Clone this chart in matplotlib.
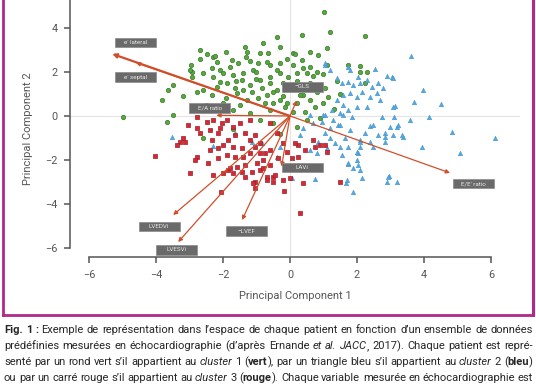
import numpy as np
import matplotlib
matplotlib.use('Agg')
import matplotlib.pyplot as plt
import matplotlib.transforms as mtransforms
from matplotlib.patches import Rectangle
from matplotlib.lines import Line2D

plt.rcParams['font.family'] = ['Roboto', 'DejaVu Sans']

# cluster 1 (vert)
green = [(-4.99, -0.05), (-2.69, 3.0), (-2.48, 2.82), (-2.96, 2.32), (-2.93, 2.0), (-2.93, 1.77),
         (-3.49, 1.41), (-3.64, 1.18), (-3.82, 0.73), (-3.49, 0.05), (-3.67, -0.27), (-2.69, 2.59),
         (-2.30, 2.68), (-2.09, 2.09), (-2.33, 2.18), (-1.73, 2.55), (-1.55, 2.41), (-1.34, 3.14),
         (-1.28, 2.91), (-1.31, 2.68), (-0.90, 2.86), (-0.66, 2.86), (-0.39, 3.59), (-0.30, 3.14),
         (-2.24, 2.73), (-2.18, 2.45), (-2.99, 2.09), (-0.69, 2.45), (-0.96, 2.41), (-1.10, 2.09),
         (-0.60, 2.32), (-0.30, 2.41), (0.09, 2.86), (-1.79, 2.23), (-1.70, 1.86), (-1.40, 1.95),
         (-1.43, 1.64), (-2.0, 1.95), (-2.09, 1.55), (-1.88, 1.5), (-2.3, 1.77), (-2.6, 1.95),
         (-2.78, 1.09), (-2.6, 1.18), (-2.33, 0.95), (-2.18, 1.32), (-1.64, 1.27), (-1.58, 1.05),
         (-1.19, 1.41), (-1.13, 1.09), (-0.9, 1.64), (-0.84, 1.27), (-0.6, 1.77), (-0.6, 1.5),
         (-0.51, 1.09), (-0.3, 1.95), (-0.21, 1.5), (-0.06, 1.77), (-1.28, 0.73), (-0.96, 0.82),
         (-0.75, 0.59), (-1.49, 0.5), (-1.7, 0.27), (-0.6, 0.27), (-0.3, 0.73), (-0.15, 0.41),
         (-1.19, 0.14), (0.36, 3.68), (1.19, 3.82), (2.24, 3.64), (1.1, 3.09), (0.84, 2.77),
         (1.01, 4.73), (0.15, 2.82), (0.36, 2.55), (0.09, 2.32), (0.39, 2.18), (0.6, 2.23),
         (0.21, 1.95), (0.51, 1.95), (0.81, 2.0), (1.1, 2.32), (1.73, 2.32), (2.09, 2.27),
         (2.3, 2.0), (2.09, 2.0), (1.04, 1.27), (1.13, 0.86), (0.99, 0.59), (0.39, 0.95),
         (0.6, 0.73), (0.75, 0.41), (0.45, 0.18), (0.21, 0.59), (2.24, 1.5), (0.3, 0.95),
         (-2.6, -1.0), (-1.7, -0.6), (-0.5, -0.3), (-0.3, -0.8), (0.2, -0.5), (0.5, -0.2),
         (-0.9, -0.2), (0.9, -0.1), (-1.0, 2.0), (-0.4, 1.2), (0.0, 1.3), (0.2, 1.6), (0.6, 1.5),
         (0.8, 1.1), (-0.2, 0.9), (0.1, 0.2), (-0.5, 0.6), (1.4, 1.6), (1.5, 1.0), (-1.9, 0.8),
         (-2.5, 0.5), (-3.2, 0.9), (-1.2, 2.5), (-0.1, 2.6), (0.6, 2.9), (-0.8, 3.3), (-1.9, 2.9),
         (1.3, 0.3), (-1.6, 1.6), (-1.0, 1.7), (-0.4, 2.1), (0.4, 1.3), (-0.7, 0.95), (-1.4, 1.2),
         (-2.0, 0.6), (0.7, 1.8), (-0.1, 0.6), (1.0, 1.9)]

# cluster 2 (bleu)
blue = [(3.61, 2.73), (3.97, 1.18), (4.51, 0.55), (4.15, -0.05), (3.7, 0.64), (4.84, -0.73),
        (6.12, -1.0), (3.94, -1.41), (3.13, 0.45), (3.1, -0.05), (2.75, -0.05), (3.04, 1.77),
        (2.54, 2.14), (1.04, 2.32), (1.73, 2.23), (2.9, 1.82), (3.19, -0.5), (2.99, -0.5),
        (2.63, -0.86), (3.37, -0.95), (2.84, -0.95), (2.39, -0.45), (1.43, -0.41), (2.09, -1.09),
        (5.07, -1.68), (2.96, -2.73), (3.19, -3.0), (2.9, -3.0), (1.88, -3.45), (1.67, -3.05),
        (1.73, -2.18), (2.0, -2.0), (2.03, -2.23), (2.09, -2.45), (1.88, -2.36), (0.75, -2.86),
        (0.06, -2.82), (1.55, -1.77), (2.09, -1.41), (2.48, -1.41), (2.84, -1.18), (2.03, -1.68),
        (3.58, -0.18), (2.48, -0.41), (3.22, -0.41), (2.84, -0.77), (3.07, -0.86), (3.34, -0.86),
        (2.24, -0.77), (2.09, -1.18), (2.39, -1.18), (1.64, -1.0), (1.79, -0.64), (1.28, -0.18),
        (1.49, -0.41), (1.19, -0.55), (1.04, -0.77), (1.19, -1.0), (1.34, -1.23), (1.1, -1.45),
        (1.49, -1.41), (1.73, -1.41), (2.0, -1.64), (1.73, -2.14), (0.84, -1.18), (0.81, -1.68),
        (0.6, -1.55), (0.3, -0.86), (0.39, -0.55), (0.69, -0.32), (0.96, -0.27), (0.99, 0.05),
        (0.6, 0.05), (1.58, 0.05), (1.85, -0.05), (2.93, -2.77), (1.70, -2.91), (2.15, -2.82),
        (1.04, 2.41), (1.79, 2.09), (3.07, 1.73), (1.40, 1.73), (1.55, 1.5), (1.73, 1.55),
        (1.88, 1.41), (2.09, 1.5), (2.3, 1.64), (2.45, 1.32), (2.63, 1.5), (2.78, 1.27),
        (2.6, 1.05), (2.39, 0.86), (2.15, 1.09), (2.0, 0.86), (1.79, 1.05), (1.58, 0.95),
        (1.40, 0.73), (1.58, 0.5), (1.73, 0.27), (2.0, 0.41), (2.3, 0.41), (2.69, 0.73),
        (3.07, 0.41), (1.49, 0.14), (1.25, 0.27), (1.04, 0.05), (1.19, 2.09), (2.03, 1.77),
        (-3.52, -0.95), (-2.3, -1.36), (-1.64, -0.77), (-1.13, -1.18), (-0.84, -1.23),
        (-0.3, -1.41), (-0.39, -1.86)]

# cluster 3 (rouge)
red = [(-2.78, -0.05), (-3.04, -0.41), (-2.48, -0.27), (-2.3, -0.18), (-2.03, -0.32), (-1.88, -0.18),
       (-1.70, -0.5), (-1.49, -0.32), (-1.19, -0.18), (-2.78, -0.55), (-2.39, -0.64), (-2.09, -0.55),
       (-2.15, -0.77), (-2.69, -0.77), (-3.19, -1.0), (-3.28, -1.18), (-3.37, -1.32), (-2.33, -1.09),
       (-1.85, -1.09), (-1.64, -0.86), (-1.34, -0.77), (-1.04, -0.86), (-1.19, -1.09), (-1.04, -1.41),
       (-1.43, -1.45), (-1.70, -1.41), (-2.0, -1.32), (-2.15, -1.45), (-2.39, -1.55), (-2.78, -1.86),
       (-2.84, -2.0), (-2.45, -2.14), (-2.15, -1.91), (-1.88, -1.77), (-1.64, -1.86), (-1.40, -1.86),
       (-1.19, -1.68), (-0.9, -1.68), (-0.81, -2.0), (-0.99, -2.14), (-1.34, -2.23), (-1.58, -2.32),
       (-1.85, -2.45), (-2.0, -2.59), (-1.70, -2.59), (-1.43, -2.55), (-1.13, -2.55), (-0.9, -2.45),
       (-0.6, -2.23), (-0.69, -2.77), (-0.51, -2.77), (-1.04, -3.0), (-1.34, -2.77), (-2.99, -2.59),
       (-0.21, -2.91), (-0.6, -0.32), (-0.39, -0.77), (-0.21, -1.23), (-0.09, -1.64), (-0.36, -1.91),
       (-0.6, -1.55), (-0.9, -1.23), (-4.03, -1.82), (-2.3, -2.68), (-2.06, -3.45), (-1.79, -2.36),
       (-1.1, -3.05), (-1.04, -3.27), (-0.69, -2.91), (-3.13, -1.18), (-0.18, -3.41), (0.3, -4.41),
       (0.39, -3.05), (1.49, -3.0), (0.0, -2.82), (-0.51, -3.0), (-0.81, -2.36), (-0.75, -1.68),
       (-0.45, -2.68), (0.09, -2.36), (0.24, -1.32), (0.45, -1.55), (0.75, -1.41), (1.04, -1.32),
       (0.69, -1.09), (0.9, -1.32), (1.1, -1.64), (0.15, -1.23), (0.06, -1.91), (0.24, -1.86)]

# loading vectors: name, arrow tip, label centre
var_names = ["e' lateral", "e' septal", "E/A ratio", "−GLS", "LAVi", "E/E' ratio", "LVEDVi", "LVESVi", "−LVEF"]
var_tips = [(-5.31, 2.82), (-4.6, 2.42), (-2.2, 0.03), (0.2, 0.7), (-0.25, -2.3), (4.78, -2.59),
            (-3.49, -4.5), (-3.34, -5.73), (-1.43, -4.73)]
label_pos = [(-4.6, 3.34), (-4.6, 1.77), (-2.39, 0.36), (0.36, 1.32), (0.36, -2.34), (5.49, -3.07),
             (-3.91, -5.02), (-3.39, -6.09), (-1.3, -5.23)]

xticks = [-6, -4, -2, 0, 2, 4, 6]
yticks = [-6, -4, -2, 0, 2, 4]

caption = [
    [("Fig. 1 :", 'bold', 'normal'),
     (" Exemple de représentation dans l’espace de chaque patient en fonction d’un ensemble de données", 'normal', 'normal')],
    [("prédéfinies mesurées en échocardiographie (d’après Ernande ", 'normal', 'normal'),
     ("et al. JACC", 'normal', 'italic'),
     (", 2017). Chaque patient est repré-", 'normal', 'normal')],
    [("senté par un rond vert s’il appartient au ", 'normal', 'normal'), ("cluster", 'normal', 'italic'),
     (" 1 (", 'normal', 'normal'), ("vert", 'bold', 'normal'),
     ("), par un triangle bleu s’il appartient au ", 'normal', 'normal'), ("cluster", 'normal', 'italic'),
     (" 2 (", 'normal', 'normal'), ("bleu", 'bold', 'normal'), (")", 'normal', 'normal')],
    [("ou par un carré rouge s’il appartient au ", 'normal', 'normal'), ("cluster", 'normal', 'italic'),
     (" 3 (", 'normal', 'normal'), ("rouge", 'bold', 'normal'),
     ("). Chaque variable mesurée en échocardiographie est", 'normal', 'normal')],
]

W, H = 536, 386
fig = plt.figure(figsize=(W / 100, H / 100), dpi=100)
ax = fig.add_axes([70 / W, 1 - 257 / H, 450 / W, 257 / H])

ax.axhline(0, color='#e4e4e4', lw=0.8, zorder=0)
ax.axvline(0, color='#e4e4e4', lw=0.8, zorder=0)

g = np.array(green)
b = np.array(blue)
r = np.array(red)
ax.scatter(g[:, 0], g[:, 1], s=10, marker='o', color='#58a83f', edgecolors='#3b7a2c', linewidths=0.5, zorder=2)
ax.scatter(b[:, 0], b[:, 1], s=11, marker='^', color='#52a8e0', edgecolors='#3f90c8', linewidths=0.3, zorder=2)
ax.scatter(r[:, 0], r[:, 1], s=12, marker='s', color='#d42a35', edgecolors='#a81a25', linewidths=0.5, zorder=2)

for i, tip in enumerate(var_tips):
    lw = 1.6 if i == 0 else 0.9
    ax.annotate('', xy=tip, xytext=(0, 0),
                arrowprops=dict(arrowstyle='-|>', color='#d04f2a', lw=lw, mutation_scale=6,
                                shrinkA=0, shrinkB=0), zorder=3)

for name, (lx, ly) in zip(var_names, label_pos):
    tr = fig.dpi_scale_trans + mtransforms.ScaledTranslation(lx, ly, ax.transData)
    ax.add_patch(Rectangle((-0.205, -0.048), 0.41, 0.096, transform=tr, facecolor='#6a6a6a',
                           edgecolor='#8a8a8a', lw=0.5, zorder=4, clip_on=False))
    ax.text(lx, ly, name, ha='center', va='center', fontsize=4.5, color='#e8e8e8', zorder=5)

ax.set_xlim(-6.57, 6.87)
ax.set_ylim(-6.41, 5.27)
ax.set_xticks(xticks)
ax.set_yticks(yticks)
ax.set_xticklabels([str(v).replace('-', '−') for v in xticks])
ax.set_yticklabels([str(v).replace('-', '−') for v in yticks])
for s in ['top', 'right']:
    ax.spines[s].set_visible(False)
ax.spines['left'].set_bounds(-6, 5.27)
ax.spines['bottom'].set_bounds(-6, 6)
for s in ['left', 'bottom']:
    ax.spines[s].set_color('#555555')
    ax.spines[s].set_linewidth(1.1)
ax.tick_params(direction='out', length=4, width=1.1, color='#555555', labelcolor='#555555', labelsize=7.8)
ax.tick_params(axis='x', pad=5)
ax.tick_params(axis='y', pad=5)
ax.set_xlabel('Principal Component 1', fontsize=8, color='#555555', labelpad=8)
ax.set_ylabel('Principal Component 2', fontsize=8, color='#555555', labelpad=9)
ax.set_facecolor('none')

# magenta frame
frame_col = '#b02a8c'
fig.add_artist(Line2D([2.5 / W, 2.5 / W], [1 - 315 / H, 1], color=frame_col, lw=2, transform=fig.transFigure))
fig.add_artist(Line2D([532.5 / W, 532.5 / W], [1 - 315 / H, 1], color=frame_col, lw=2.2, transform=fig.transFigure))
fig.add_artist(Line2D([2.5 / W, 532.5 / W], [1 - 315 / H, 1 - 315 / H], color=frame_col, lw=2, transform=fig.transFigure))

# justified caption
renderer = fig.canvas.get_renderer()
x0, x1 = 4, 533
line_y = [333, 349, 365, 381]
fs = 8.0
for segs, yb in zip(caption, line_y):
    words = [[]]
    for text, wt, st in segs:
        parts = text.split(' ')
        for i, p in enumerate(parts):
            if i > 0:
                words.append([])
            if p:
                words[-1].append((p, wt, st))
    words = [w for w in words if w]
    arts = []
    widths = []
    for w in words:
        pieces = []
        tw = 0
        for p, wt, st in w:
            t = fig.text(0, 0, p, fontsize=fs, fontweight=wt, fontstyle=st, color='#262626',
                         va='baseline', ha='left')
            pw = t.get_window_extent(renderer).width
            pieces.append((t, tw))
            tw += pw
        arts.append(pieces)
        widths.append(tw)
    gap = (x1 - x0 - sum(widths)) / (len(words) - 1)
    x = x0
    for pieces, tw in zip(arts, widths):
        for t, off in pieces:
            t.set_position(((x + off) / W, 1 - yb / H))
        x += tw + gap

fig.savefig('out.png', dpi=100)
